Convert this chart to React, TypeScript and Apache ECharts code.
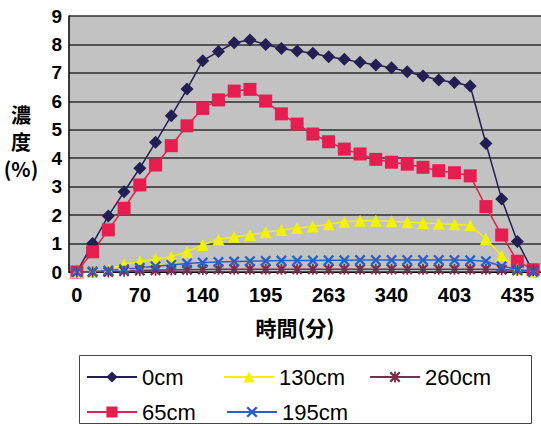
import React, { useEffect, useRef } from "react";
import * as echarts from "echarts";

const times = [
  "0", "18", "35", "53", "70", "88", "105", "123", "140", "154", "168", "181", "195", "212", "229",
  "246", "263", "282", "302", "321", "340", "356", "372", "387", "403", "411", "419", "427", "435", "443",
];

const s0cm = [0, 1.0, 1.97, 2.82, 3.65, 4.56, 5.49, 6.43, 7.43, 7.75, 8.06, 8.16, 8.0, 7.86, 7.77, 7.69, 7.57, 7.48, 7.37, 7.28, 7.18, 7.04, 6.89, 6.75, 6.66, 6.54, 4.52, 2.57, 1.07, 0];
const s65cm = [0, 0.71, 1.48, 2.24, 3.06, 3.76, 4.44, 5.14, 5.75, 6.05, 6.36, 6.42, 6.01, 5.56, 5.2, 4.85, 4.58, 4.32, 4.15, 3.96, 3.86, 3.79, 3.68, 3.56, 3.49, 3.38, 2.3, 1.3, 0.38, 0.08];
const s130cm = [0, 0, 0.08, 0.27, 0.36, 0.46, 0.54, 0.71, 0.95, 1.14, 1.24, 1.3, 1.4, 1.48, 1.55, 1.6, 1.68, 1.77, 1.8, 1.8, 1.78, 1.75, 1.72, 1.7, 1.68, 1.64, 1.16, 0.57, 0.1, 0];
const s195cm = [0, 0.02, 0.05, 0.1, 0.15, 0.2, 0.25, 0.3, 0.33, 0.35, 0.37, 0.38, 0.39, 0.4, 0.4, 0.4, 0.41, 0.41, 0.42, 0.42, 0.42, 0.42, 0.42, 0.42, 0.42, 0.41, 0.38, 0.2, 0.1, 0];
const s260cm = [0, 0, 0, 0.03, 0.05, 0.06, 0.07, 0.08, 0.09, 0.1, 0.1, 0.1, 0.1, 0.1, 0.1, 0.1, 0.1, 0.1, 0.1, 0.1, 0.1, 0.1, 0.1, 0.1, 0.1, 0.1, 0.1, 0.08, 0.06, 0.04];

const seriesNames = ["0cm", "65cm", "130cm", "195cm", "260cm"];

const X_PATH =
  "path://M0,1.5 L1.5,0 L5,3.5 L8.5,0 L10,1.5 L6.5,5 L10,8.5 L8.5,10 L5,6.5 L1.5,10 L0,8.5 L3.5,5 Z";
const STAR_PATH =
  "path://M0,1.5 L1.5,0 L5,3.5 L8.5,0 L10,1.5 L6.5,5 L10,8.5 L8.5,10 L5,6.5 L1.5,10 L0,8.5 L3.5,5 Z M4.2,0 L5.8,0 L5.8,10 L4.2,10 Z";

const FONT = "'Liberation Sans', Arial, sans-serif";
const CJK = "'Noto Sans CJK JP', sans-serif";

export default function App() {
  const ref = useRef<HTMLDivElement>(null);
  useEffect(() => {
    if (!ref.current) return;
    const chart = echarts.init(ref.current, undefined, { renderer: "svg" });
    const legendText = { fontSize: 22, color: "#000", fontFamily: FONT };
    const mkLegend = (name: string, left: number, top: number) => ({
      data: [name],
      left,
      top,
      itemWidth: 50,
      itemHeight: 14,
      itemGap: 4,
      padding: 0,
      textStyle: legendText,
      selectedMode: false,
    });
    const common = { showSymbol: true, showAllSymbol: true };
    chart.setOption({
      animation: false,
      backgroundColor: "#fff",
      grid: {
        left: 69,
        right: 0,
        top: 16,
        bottom: 154,
        show: true,
        backgroundColor: "#c2c2c2",
        borderWidth: 0,
      },
      xAxis: {
        type: "category",
        data: times,
        boundaryGap: true,
        axisLine: { show: true, lineStyle: { color: "#000", width: 1 } },
        axisTick: { show: false },
        axisLabel: {
          interval: 3,
          fontSize: 20,
          fontWeight: "bold",
          color: "#000",
          margin: 13,
          fontFamily: FONT,
        },
        splitLine: { show: false },
      },
      yAxis: {
        type: "value",
        min: 0,
        max: 9,
        interval: 1,
        axisLine: { show: true, lineStyle: { color: "#000", width: 1.5 } },
        axisTick: { show: false },
        axisLabel: {
          fontSize: 19,
          fontWeight: "bold",
          color: "#000",
          margin: 7,
          fontFamily: FONT,
        },
        splitLine: { show: true, lineStyle: { color: "#2e2e2e", width: 1.5 } },
      },
      legend: [
        mkLegend("0cm", 86, 366),
        mkLegend("130cm", 223, 366),
        mkLegend("260cm", 369, 366),
        mkLegend("65cm", 86, 401),
        mkLegend("195cm", 226, 401),
      ],
      graphic: [
        {
          type: "rect",
          z: 0,
          shape: { x: 79.5, y: 355.5, width: 452, height: 68 },
          style: { fill: "#fff", stroke: "#444", lineWidth: 1 },
        },
        {
          type: "text",
          x: 21,
          y: 141,
          style: {
            text: "濃\n度\n(%)",
            font: `bold 20px ${CJK}`,
            lineHeight: 27,
            align: "center",
            verticalAlign: "middle",
            fill: "#000",
          },
        },
        {
          type: "text",
          x: 295,
          y: 327,
          style: {
            text: "時間(分)",
            font: `bold 21px ${CJK}`,
            align: "center",
            verticalAlign: "middle",
            fill: "#000",
          },
        },
      ],
      series: [
        {
          ...common,
          name: seriesNames[0],
          type: "line",
          data: s0cm,
          symbol: "diamond",
          symbolSize: 13,
          itemStyle: { color: "#231f52" },
          lineStyle: { color: "#231f52", width: 1.5 },
        },
        {
          ...common,
          name: seriesNames[1],
          type: "line",
          data: s65cm,
          symbol: "rect",
          symbolSize: 13,
          itemStyle: { color: "#e61e50" },
          lineStyle: { color: "#e61e50", width: 1.5 },
        },
        {
          ...common,
          name: seriesNames[2],
          type: "line",
          data: s130cm,
          symbol: "triangle",
          symbolSize: 12,
          itemStyle: { color: "#f2f200" },
          lineStyle: { color: "#f2f200", width: 1.5 },
        },
        {
          ...common,
          name: seriesNames[4],
          type: "line",
          data: s260cm,
          symbol: STAR_PATH,
          symbolSize: 11,
          itemStyle: { color: "#7a2e4e" },
          lineStyle: { color: "#7a2e4e", width: 1.5 },
        },
        {
          ...common,
          name: seriesNames[3],
          type: "line",
          data: s195cm,
          symbol: X_PATH,
          symbolSize: 11,
          itemStyle: { color: "#2a5fc8" },
          lineStyle: { color: "#2a5fc8", width: 1.5 },
        },
      ],
    });
    return () => chart.dispose();
  }, []);
  return (
    <div
      ref={ref}
      style={{ position: "absolute", left: 0, top: 0, width: 541, height: 426 }}
    />
  );
}
